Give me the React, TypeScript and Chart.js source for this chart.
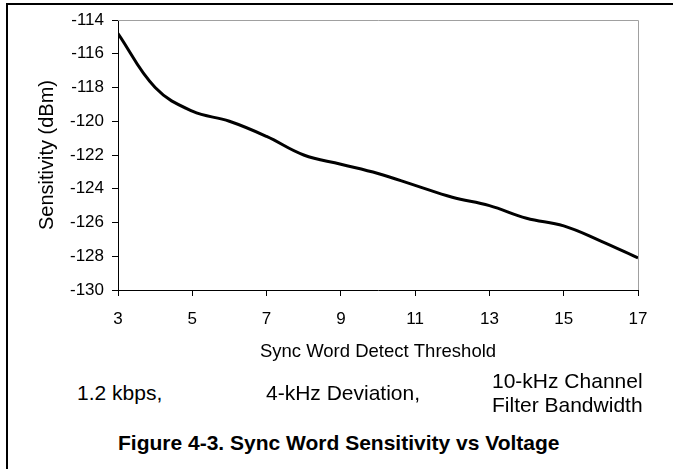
import React, { useEffect, useRef } from 'react';
import { Chart, registerables } from 'chart.js';

Chart.register(...registerables);

// ---- data ----
const thresholds = [3, 4, 5, 6, 7, 8, 9, 10, 11, 12, 13, 14, 15, 16, 17];
const sensitivity = [
  -114.8, -118.0, -119.4, -120.0, -120.9, -122.0, -122.55, -123.1,
  -123.8, -124.5, -125.0, -125.75, -126.2, -127.1, -128.1,
];
const xTickValues = [3, 5, 7, 9, 11, 13, 15, 17];
const yTickValues = [-130, -128, -126, -124, -122, -120, -118, -116, -114];
const xTitle = 'Sync Word Detect Threshold';
const yTitle = 'Sensitivity (dBm)';
const noteRate = '1.2 kbps,';
const noteDeviation = '4-kHz Deviation,';
const noteBandwidth = ['10-kHz Channel', 'Filter Bandwidth'];
const caption = 'Figure 4-3. Sync Word Sensitivity vs Voltage';

const FONT = "'Liberation Sans', Arial, Helvetica, sans-serif";

const plotFrame = {
  id: 'plotFrame',
  beforeDatasetsDraw(chart: any) {
    const { ctx, chartArea } = chart;
    const { left, top, right, bottom } = chartArea;
    ctx.save();
    ctx.strokeStyle = '#a0a0a0';
    ctx.lineWidth = 1;
    ctx.beginPath();
    ctx.moveTo(left, Math.round(top) + 0.5);
    ctx.lineTo(Math.round(right) + 0.5, Math.round(top) + 0.5);
    ctx.lineTo(Math.round(right) + 0.5, bottom);
    ctx.stroke();
    ctx.restore();
  },
};

export default function App() {
  const canvasRef = useRef<HTMLCanvasElement | null>(null);

  useEffect(() => {
    if (!canvasRef.current) return;
    const chart = new Chart(canvasRef.current, {
      type: 'line',
      data: {
        datasets: [
          {
            data: thresholds.map((x, i) => ({ x, y: sensitivity[i] })),
            borderColor: '#000000',
            borderWidth: 3,
            pointRadius: 0,
            tension: 0.4,
            fill: false,
          },
        ],
      },
      options: {
        responsive: false,
        animation: false,
        layout: { padding: { top: 20, right: 35, left: 0, bottom: 0 } },
        plugins: {
          legend: { display: false },
          tooltip: { enabled: false },
        },
        scales: {
          x: {
            type: 'linear',
            min: 3,
            max: 17,
            afterBuildTicks: (scale: any) => {
              scale.ticks = xTickValues.map((v) => ({ value: v }));
            },
            afterFit: (scale: any) => {
              scale.height = 80;
            },
            grid: {
              drawOnChartArea: false,
              drawTicks: true,
              tickLength: 6,
              color: '#000000',
            },
            border: { color: '#000000', width: 1 },
            ticks: {
              color: '#000000',
              padding: 13,
              maxRotation: 0,
              autoSkip: false,
              font: { family: FONT, size: 17 },
              callback: (v: any) => String(v),
            },
            title: {
              display: true,
              text: xTitle,
              color: '#000000',
              font: { family: FONT, size: 18.5 },
              padding: { top: 0, bottom: 7 },
            },
          },
          y: {
            type: 'linear',
            min: -130,
            max: -114,
            afterBuildTicks: (scale: any) => {
              scale.ticks = yTickValues.map((v) => ({ value: v }));
            },
            afterFit: (scale: any) => {
              scale.width = 118;
            },
            grid: {
              drawOnChartArea: false,
              drawTicks: true,
              tickLength: 6,
              color: '#000000',
            },
            border: { color: '#000000', width: 1 },
            ticks: {
              color: '#000000',
              padding: 8,
              autoSkip: false,
              font: { family: FONT, size: 17 },
              callback: (v: any) => String(v),
            },
            title: {
              display: true,
              text: yTitle,
              color: '#000000',
              font: { family: FONT, size: 20 },
              padding: { top: 35, bottom: 0 },
            },
          },
        },
      },
      plugins: [plotFrame],
    } as any);
    return () => chart.destroy();
  }, []);

  const textBase: React.CSSProperties = {
    position: 'absolute',
    fontFamily: FONT,
    color: '#000',
    whiteSpace: 'nowrap',
    lineHeight: '24px',
  };

  return (
    <div
      style={{
        position: 'absolute',
        left: 0,
        top: 0,
        width: 673,
        height: 469,
        background: '#fff',
        overflow: 'hidden',
      }}
    >
      <div style={{ position: 'absolute', left: 6, top: 3, width: 667, height: 2, background: '#000' }} />
      <div style={{ position: 'absolute', left: 6, top: 3, width: 2, height: 466, background: '#000' }} />
      <canvas
        ref={canvasRef}
        width={673}
        height={370}
        style={{ position: 'absolute', left: 0, top: 0, width: 673, height: 370 }}
      />
      <div style={{ ...textBase, left: 77, top: 381, fontSize: 21 }}>{noteRate}</div>
      <div style={{ ...textBase, left: 266, top: 381, fontSize: 21 }}>{noteDeviation}</div>
      <div style={{ ...textBase, left: 492, top: 369, fontSize: 21 }}>
        {noteBandwidth.map((t) => (
          <div key={t}>{t}</div>
        ))}
      </div>
      <div style={{ ...textBase, left: 118, top: 431, fontSize: 21, fontWeight: 'bold' }}>{caption}</div>
    </div>
  );
}
